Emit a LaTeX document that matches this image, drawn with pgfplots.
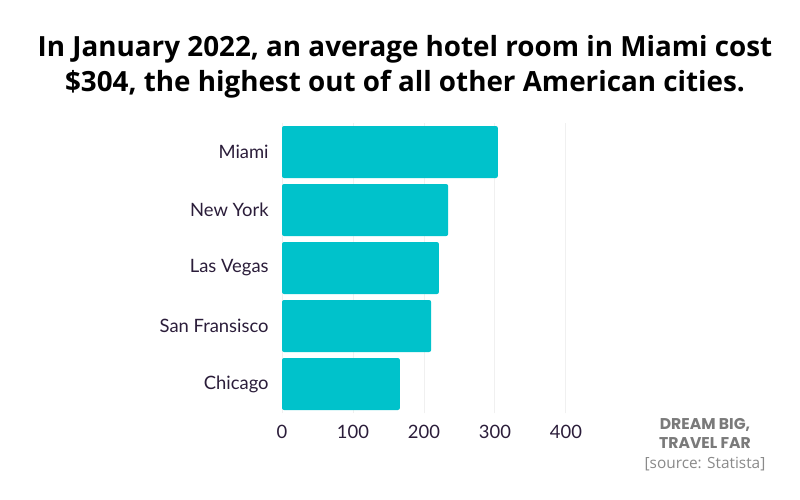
\documentclass[border=0pt]{standalone}
\usepackage{fontspec}
\setmainfont{Open Sans}
\newfontfamily\tickfont{Lato}
\newfontfamily\markfont{Poppins}
\usepackage{pgfplots}
\pgfplotsset{compat=1.18}
\definecolor{barcyan}{HTML}{00C2CB}
\definecolor{labelpurple}{HTML}{2B1D3A}
\definecolor{markgray}{HTML}{7A7A7A}
\definecolor{srcgray}{HTML}{8A8A8A}
\definecolor{gridgray}{HTML}{F0F0F0}

\begin{document}
\begin{tikzpicture}
% page: 400bp x 250bp (1bp = 2px of the reference)
\path[use as bounding box, fill=white] (0,0) rectangle (400bp,-250bp);

\node[anchor=base, font=\bfseries\fontsize{13.9bp}{16bp}\selectfont, inner sep=0pt]
  at (202.5bp,-28bp) {In January 2022, an average hotel room in Miami cost};
\node[anchor=base, font=\bfseries\fontsize{13.9bp}{16bp}\selectfont, inner sep=0pt]
  at (202.5bp,-45.5bp) {\$304, the highest out of all other American cities.};

\begin{axis}[
    at={(141bp,-206.5bp)}, anchor=south west,
    width=142bp, height=145bp, scale only axis,
    xbar, bar width=26bp,
    xmin=0, xmax=400,
    ymin=-0.5, ymax=4.5,
    xtick={0,100,200,300,400},
    ytick={0,1,2,3,4},
    yticklabels={Chicago,San Fransisco,Las Vegas,New York,Miami},
    axis line style={draw=none},
    major tick length=0pt,
    xmajorgrids, grid style={gridgray, line width=0.5bp},
    tick label style={font=\tickfont\fontsize{9.2bp}{11bp}\selectfont, text=labelpurple},
    /pgf/number format/assume math mode=true,
    xticklabel style={anchor=base, yshift=-12.5bp},
    yticklabel style={anchor=east, inner sep=0pt, xshift=-6.5bp},
]
\addplot[fill=barcyan, draw=none, rounded corners=1bp] coordinates {
  (166,0) (210,1) (221,2) (234,3) (304,4)
};
\end{axis}

\node[anchor=base, font=\markfont\bfseries\fontsize{7.8bp}{9bp}\selectfont, text=markgray, inner sep=0pt]
  at (352.5bp,-214.5bp) {DREAM BIG,};
\node[anchor=base, font=\markfont\bfseries\fontsize{7.8bp}{9bp}\selectfont, text=markgray, inner sep=0pt]
  at (352.5bp,-224bp) {TRAVEL FAR};
\node[anchor=base, font=\fontsize{7.7bp}{9bp}\selectfont, text=srcgray, inner sep=0pt]
  at (352.5bp,-234bp) {[source: Statista]};
\end{tikzpicture}
\end{document}
